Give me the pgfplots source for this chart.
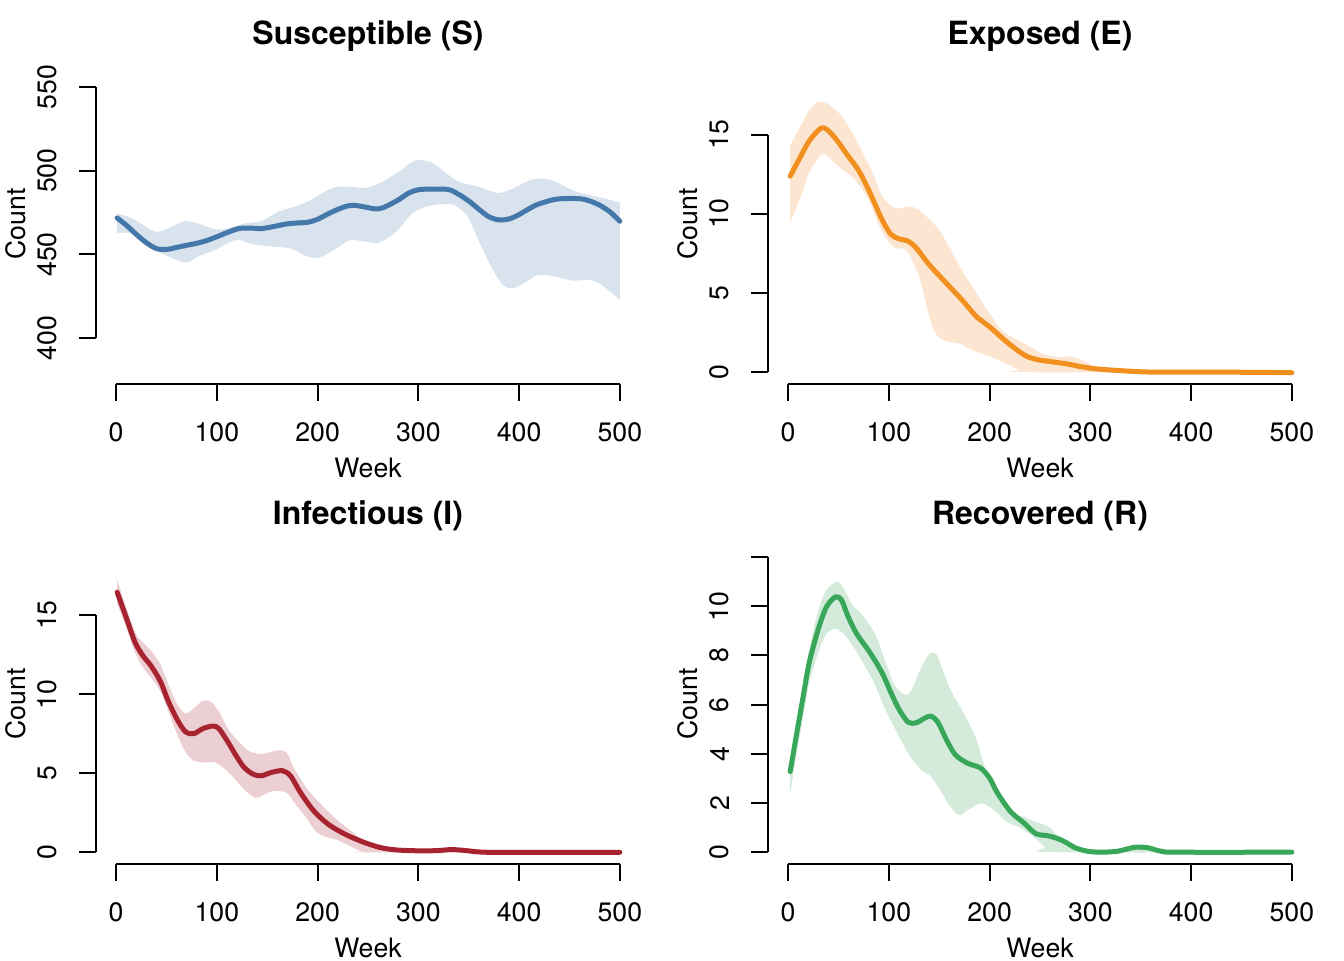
\documentclass[border=0pt]{standalone}
\usepackage{fontspec}
\setmainfont{TeX Gyre Heros}
\usepackage{pgfplots}
\pgfplotsset{compat=1.18}
\usepgfplotslibrary{fillbetween}

\definecolor{cS}{HTML}{4477AA}
\definecolor{cE}{HTML}{F2901F}
\definecolor{cI}{HTML}{A82330}
\definecolor{cR}{HTML}{38A75A}
\definecolor{bS}{HTML}{D9E3EE}
\definecolor{bE}{HTML}{FCE6D1}
\definecolor{bI}{HTML}{EBCFD3}
\definecolor{bR}{HTML}{D4EBDC}

\tikzset{rline/.style={black, line width=0.75pt}}

\pgfplotsset{
  rpanel/.style={
    scale only axis, width=204pt, height=120pt,
    xmin=-20, xmax=520,
    xtick={0,100,...,500},
    axis x line*=bottom, axis y line*=left,
    axis line style={draw=none},
    tick align=outside,
    major tick length=6.2pt,
    tick style={black, line width=0.75pt},
    /pgf/number format/assume math mode=true,
    ticklabel style={font=\fontsize{10}{12}\selectfont, inner sep=0pt},
    xticklabel style={anchor=north},
    yticklabel style={rotate=90, anchor=south},
    xticklabel shift=8.2pt, yticklabel shift=8.2pt,
    title style={font=\bfseries\fontsize{12}{14}\selectfont, inner sep=0pt,
      at={(axis description cs:0.5,1)}, anchor=base, yshift=1.5pt},
    xlabel=Week, ylabel=Count,
    label style={font=\fontsize{10}{12}\selectfont, inner sep=0pt},
    xlabel style={at={(axis description cs:0.5,0)}, anchor=base, yshift=-34.9pt},
    ylabel style={at={(axis description cs:-0.1305,0.5)}, anchor=base},
    clip=false,
  },
  mean/.style={line width=1.875pt, line join=round, line cap=round, smooth},
  edge/.style={draw=none, smooth},
}

\begin{document}
\begin{tikzpicture}
\path (0,0) rectangle (504pt,360pt);

% ---- Susceptible
\begin{axis}[rpanel, at={(36pt,216pt)}, anchor=south west,
  title={Susceptible (S)}, ymin=372.75, ymax=563.6, ytick={400,450,500,550}]
\addplot[edge, name path=Su] coordinates {
 (1,474.5) (10,472.9) (19,470.5) (35,464.6) (42,463.6) (52,465.6) (60,468) (69,469.9)
 (81,468.5) (98,465) (111,465.6) (127,468.5) (144,469.9) (161,475.5) (177,478.5)
 (190,481.5) (207,487.4) (219,490.4) (232,490.4) (248,489.8) (261,492.4) (278,498.3)
 (294,505.3) (303,506.3) (315,504.3) (328,498.3) (340,493.4) (357,490.8) (374,487.4)
 (382,486.8) (394,489.4) (411,494.4) (424,495.4) (436,493.4) (457,487.4) (478,484.4) (500,480.9)};
\addplot[edge, name path=Sl] coordinates {
 (1,462.6) (15,462.6) (31,456) (44,451) (60,446.7) (71,445.3) (81,448.7) (98,452.7)
 (119,458.6) (136,456) (157,454.6) (173,453.6) (190,448.7) (202,448.3) (219,453.6)
 (232,458.6) (248,457.6) (261,457) (278,463.6) (294,474.5) (311,479.1) (328,480)
 (336,479.5) (349,472.5) (361,456.6) (374,440.7) (384,431.8) (394,429.8) (407,433.8)
 (419,437.8) (436,436.8) (453,434.4) (469,434.8) (482,431.8) (500,422.8)};
\addplot[bS, draw=none] fill between[of=Su and Sl];
\addplot[mean, cS] coordinates {
 (1,471.8) (10,467.5) (20,462) (30,457) (40,453.5) (50,453) (60,454.2) (71,455.6)
 (81,456.8) (90,458.3) (100,460.6) (112,463.5) (123,465.6) (135,465.7) (144,465.4)
 (155,466.5) (169,468.2) (180,468.8) (190,469.2) (200,471) (213,475) (227,478.5)
 (236,479.3) (247,478.3) (257,477.2) (265,477.9) (280,482.5) (290,486.5) (300,488.6)
 (312,489) (323,489) (332,488.4) (344,484.4) (352,481) (361,476.5) (370,472.5)
 (380,470.6) (390,471.2) (399,473.5) (410,477.3) (419,480) (436,482.9) (453,483.4)
 (465,482.8) (478,480) (490,475.5) (500,469.8)};
\draw[rline] (axis cs:0,372.75) -- (axis cs:500,372.75);
\draw[rline] (axis cs:-20,400) -- (axis cs:-20,550);
\end{axis}

% ---- Exposed
\begin{axis}[rpanel, at={(288pt,216pt)}, anchor=south west,
  title={Exposed (E)}, ymin=-0.745, ymax=19.45, ytick={0,5,10,15}]
\addplot[edge, name path=Eu] coordinates {
 (2,14.32) (13,15.6) (21,16.55) (30,17.08) (38,16.97) (47,16.55) (55,16.02) (64,15.06)
 (72,14.11) (85,12.41) (93,11.14) (102,10.5) (110,10.33) (121,10.46) (130,10.23)
 (140,9.65) (151,8.91) (161,7.74) (174,6.26) (187,4.99) (200,3.71) (212,2.65)
 (225,2.12) (242,1.55) (255,1.1) (268,0.95) (280,1.0) (293,0.74) (302,0.42) (310,0.21)
 (327,0.11) (353,0.02) (380,0) (500,0)};
\addplot[edge, name path=El] coordinates {
 (2,9.44) (13,11.14) (21,12.62) (32,13.69) (38,13.69) (47,13.15) (55,12.73) (64,12.31)
 (72,11.67) (81,10.72) (89,9.44) (98,8.38) (106,7.85) (115,7.79) (121,7.32) (130,6.05)
 (136,4.56) (142,3.08) (149,2.23) (159,1.91) (170,1.8) (183,1.38) (200,1.0) (217,0.53)
 (229,0.15) (238,0) (500,0)};
\addplot[bE, draw=none] fill between[of=Eu and El];
\addplot[mean, cE] coordinates {
 (2,12.37) (11,13.45) (21,14.6) (32,15.38) (38,15.34) (47,14.75) (59,13.69) (70,12.73)
 (81,11.35) (93,9.65) (102,8.7) (110,8.42) (119,8.27) (127,7.85) (140,6.79) (157,5.62)
 (174,4.46) (187,3.5) (200,2.86) (217,1.91) (234,1.1) (246,0.81) (259,0.68) (276,0.53)
 (293,0.32) (306,0.21) (327,0.11) (353,0.02) (380,0) (440,0) (500,-0.03)};
\draw[rline] (axis cs:0,-0.745) -- (axis cs:500,-0.745);
\draw[rline] (axis cs:-20,0) -- (axis cs:-20,15);
\end{axis}

% ---- Infectious
\begin{axis}[rpanel, at={(36pt,36pt)}, anchor=south west,
  title={Infectious (I)}, ymin=-0.74, ymax=19.5, ytick={0,5,10,15}]
\addplot[edge, name path=Iu] coordinates {
 (1,17.2) (10,15.49) (19,13.89) (27,13.25) (35,12.72) (44,11.87) (52,10.59) (61,9.31)
 (69,8.78) (77,9.1) (86,9.59) (94,9.52) (102,8.89) (111,7.82) (119,7.18) (131,6.44)
 (144,6.22) (160,6.44) (169,6.33) (177,5.26) (190,3.98) (202,3.13) (219,2.07) (236,1.21)
 (248,0.58) (261,0.26) (278,0.11) (319,0.11) (332,0.3) (344,0.19) (361,0.02) (382,0) (500,0)};
\addplot[edge, name path=Il] coordinates {
 (1,15.7) (10,14.21) (19,12.61) (27,11.66) (35,11.02) (44,10.16) (52,8.89) (61,7.39)
 (69,6.33) (77,5.8) (86,5.69) (98,5.69) (106,5.37) (115,4.84) (127,3.98) (138,3.45)
 (144,3.56) (156,3.88) (169,3.77) (177,3.13) (190,2.07) (198,1.32) (207,1.0) (219,0.79)
 (232,0.4) (244,0.04) (252,0) (500,0)};
\addplot[bI, draw=none] fill between[of=Iu and Il];
\addplot[mean, cI] coordinates {
 (1,16.45) (10,14.85) (19,13.25) (27,12.4) (35,11.76) (44,10.8) (52,9.52) (61,8.35)
 (69,7.61) (77,7.5) (86,7.82) (96,7.99) (102,7.82) (111,6.97) (119,6.12) (127,5.37)
 (136,4.94) (144,4.84) (154,5.05) (165,5.16) (173,4.84) (182,3.88) (190,3.13) (198,2.49)
 (211,1.75) (227,1.15) (244,0.68) (261,0.32) (278,0.15) (303,0.09) (319,0.11) (332,0.17)
 (344,0.13) (361,0.02) (382,0) (500,0)};
\draw[rline] (axis cs:0,-0.74) -- (axis cs:500,-0.74);
\draw[rline] (axis cs:-20,0) -- (axis cs:-20,15);
\end{axis}

% ---- Recovered
\begin{axis}[rpanel, at={(288pt,36pt)}, anchor=south west,
  title={Recovered (R)}, ymin=-0.48, ymax=12.53, ytick={0,2,...,12},
  yticklabels={0,2,4,6,8,10,{}}]
\addplot[edge, name path=Ru] coordinates {
 (2,3.62) (8,5.12) (15,6.76) (21,8.27) (30,9.84) (38,10.66) (49,11.0) (55,10.72)
 (64,10.04) (74,9.63) (87,8.81) (98,7.58) (106,6.76) (117,6.39) (123,6.63) (132,7.51)
 (140,8.06) (147,8.06) (153,7.45) (161,6.63) (174,5.67) (187,4.58) (195,3.48) (208,2.39)
 (221,1.64) (234,1.43) (246,1.23) (259,1.02) (272,0.48) (285,0.07) (297,0.04) (310,0)
 (327,0.04) (344,0.2) (357,0.18) (370,0.04) (387,0) (500,0)};
\addplot[edge, name path=Rl] coordinates {
 (2,2.39) (8,3.89) (15,5.53) (21,6.9) (30,8.13) (38,8.88) (47,9.08) (55,8.88) (64,8.4)
 (74,7.72) (85,6.9) (98,5.67) (110,4.71) (121,3.89) (132,3.35) (142,3.07) (153,2.39)
 (161,1.84) (170,1.5) (178,1.71) (191,1.98) (200,1.84) (208,1.57) (217,1.23) (229,1.02)
 (242,0.68) (255,0.2) (263,0) (500,0)};
\addplot[bR, draw=none] fill between[of=Ru and Rl];
\addplot[mean, cR] coordinates {
 (2,3.28) (8,4.71) (15,6.35) (21,7.72) (30,9.08) (38,9.97) (47,10.38) (53,10.25)
 (59,9.63) (68,8.88) (81,8.13) (93,7.31) (102,6.49) (110,5.81) (119,5.29) (127,5.26)
 (136,5.46) (142,5.53) (149,5.26) (157,4.58) (166,3.96) (178,3.62) (191,3.42) (200,3.01)
 (208,2.39) (221,1.64) (234,1.19) (246,0.75) (259,0.66) (272,0.48) (285,0.18) (297,0.04)
 (310,0) (327,0.04) (344,0.2) (357,0.18) (370,0.04) (387,0) (500,0)};
\draw[rline] (axis cs:0,-0.48) -- (axis cs:500,-0.48);
\draw[rline] (axis cs:-20,0) -- (axis cs:-20,12);
\end{axis}
\pgfresetboundingbox
\path[use as bounding box] (0,0) rectangle (504pt,360pt);
\end{tikzpicture}
\end{document}
